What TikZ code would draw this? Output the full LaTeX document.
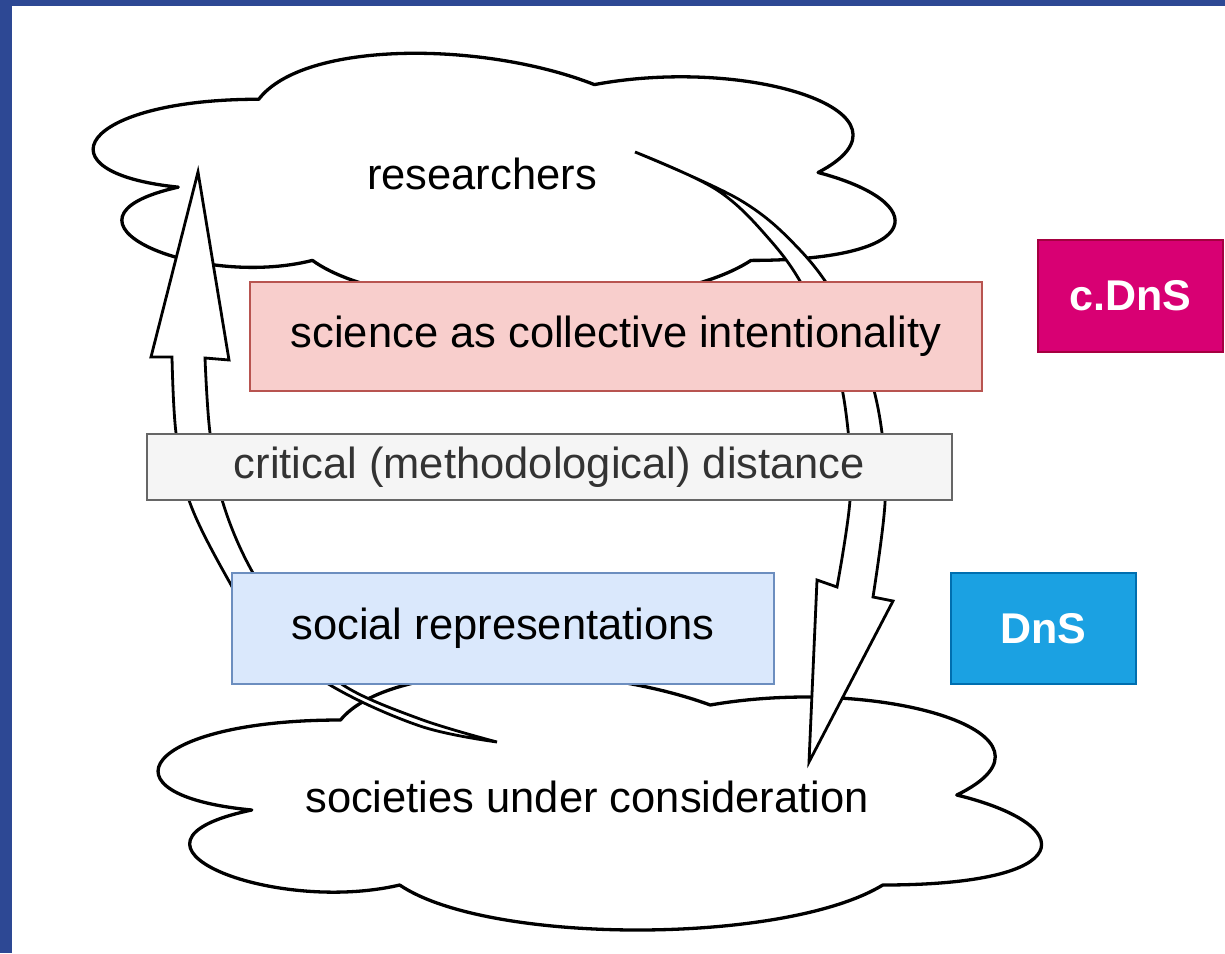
\documentclass[tikz,border=0pt]{standalone}
\usepackage{fontspec}
\setmainfont{Liberation Sans}
\usetikzlibrary{calc}
\definecolor{slideblue}{RGB}{45,72,148}
\definecolor{pinkfill}{HTML}{F8CECC}
\definecolor{pinkline}{HTML}{B85450}
\definecolor{grayfill}{HTML}{F5F5F5}
\definecolor{grayline}{HTML}{666666}
\definecolor{graytext}{HTML}{333333}
\definecolor{bluefill}{HTML}{DAE8FC}
\definecolor{blueline}{HTML}{6C8EBF}
\definecolor{magfill}{HTML}{D80073}
\definecolor{magline}{HTML}{A50040}
\definecolor{cyanfill}{HTML}{1BA1E2}
\definecolor{cyanline}{HTML}{006EAF}
\tikzset{
  cloudline/.style={draw=black, fill=white, line width=3.3pt, line join=round},
  arrowbody/.style={draw=black, fill=white, line width=2.8pt, line join=miter},
  lbl/.style={inner sep=0pt, font=\fontsize{43.5}{50}\selectfont},
  boxbase/.style={draw, line width=2.2pt, inner sep=0pt, font=\fontsize{43.5}{50}\selectfont},
  pinkbox/.style={boxbase, draw=pinkline, fill=pinkfill},
  graybox/.style={boxbase, draw=grayline, fill=grayfill, text=graytext},
  bluebox/.style={boxbase, draw=blueline, fill=bluefill},
  tagbox/.style={boxbase, text=white, font=\fontsize{43}{50}\selectfont\bfseries, minimum width=185pt, minimum height=111pt},
}
\newcommand{\cloudshape}[5]{%
  \begin{scope}[shift={(#1,#2)}, xscale=#3, yscale=#4]
    \path[#5] (0.25,0.25) .. controls (0.05,0.25) and (0,0.5) .. (0.16,0.55)
      .. controls (0,0.66) and (0.18,0.9) .. (0.31,0.8)
      .. controls (0.4,1) and (0.7,1) .. (0.8,0.8)
      .. controls (1,0.8) and (1,0.6) .. (0.875,0.5)
      .. controls (1,0.3) and (0.8,0.1) .. (0.625,0.2)
      .. controls (0.5,0.05) and (0.3,0.05) .. (0.25,0.25) -- cycle;
  \end{scope}}
\begin{document}
\begin{tikzpicture}[x=1pt, y=-1pt]
  % page and slide border
  \fill[slideblue] (0,0) rectangle (1225,953);
  \fill[white] (12,6) rectangle (1225,953);
  \useasboundingbox (0,0) rectangle (1225,953);

  % clouds
  \cloudshape{35}{26}{895}{293}{cloudline}
  \cloudshape{94}{645}{986}{300}{cloudline}
  \node[lbl] (researchers) at (482,174) {researchers};
  \node[lbl] (societies) at (587,797) {societies under consideration};

  % curved block arrows
  \draw[arrowbody] (497,742)
    -- plot[smooth, tension=0.6] coordinates {(497,742) (420,726) (330,685) (262,632) (230,583) (190,503) (176,433) (172,357)}
    -- (151,357) -- (198,172) -- (229,360)
    -- plot[smooth, tension=0.6] coordinates {(205,358) (210,433) (223,503) (253,573) (300,640) (343,685) (420,719) (497,742)}
    -- cycle;
  \draw[arrowbody] (635,152)
    -- plot[smooth, tension=0.6] coordinates {(635,152) (717,190) (770,240) (805,290) (835,360) (848,430) (850,500) (837,587)}
    -- (817,580) -- (809,762) -- (893,601)
    -- plot[smooth, tension=0.6] coordinates {(873,597) (885,503) (882,433) (868,370) (840,305) (800,250) (740,200) (635,152)}
    -- cycle;

  % boxes
  \node[pinkbox, minimum width=732pt, minimum height=109pt] (science) at (616,336.5) {science as collective intentionality};
  \node[graybox, minimum width=805pt, minimum height=66pt] (distance) at (549.5,467) {critical (methodological) distance};
  \node[bluebox, minimum width=542pt, minimum height=111pt] (social) at (503,628.5) {social representations};
  \node[tagbox, fill=magfill, draw=magline, minimum height=112pt] (cdns) at (1130.5,296) {c.DnS};
  \node[tagbox, fill=cyanfill, draw=cyanline] (dns) at (1043.5,628.5) {DnS};
\end{tikzpicture}
\end{document}
